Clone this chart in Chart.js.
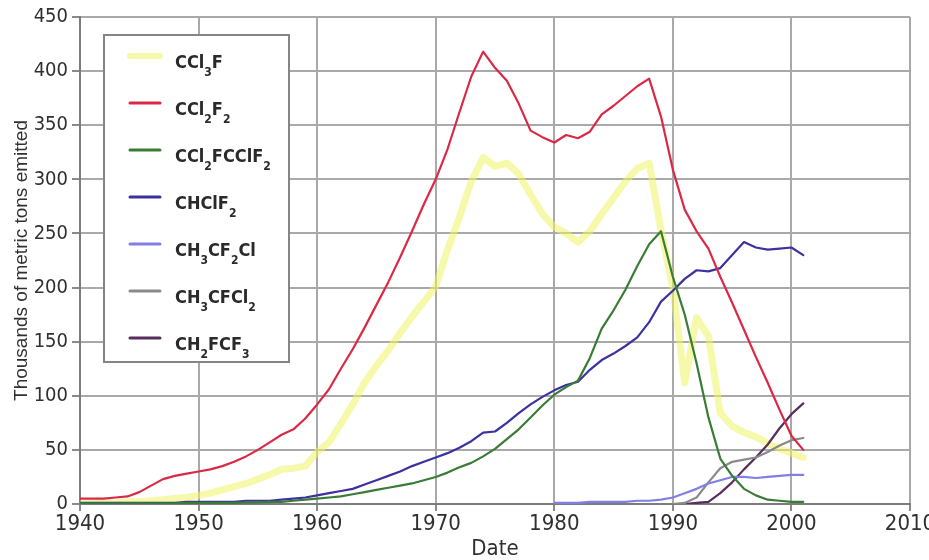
<!DOCTYPE html>
<html>
<head>
<meta charset="utf-8">
<title>Halocarbon emissions</title>
<script src="https://cdn.jsdelivr.net/npm/chart.js@4.4.1/dist/chart.umd.min.js"></script>
<style>
  html, body { margin: 0; padding: 0; background: #ffffff; }
  canvas { display: block; }
</style>
</head>
<body>
<canvas id="chart" width="929" height="560"></canvas>
<script>
// Years of record (x values)
const years = [
  1940, 1941, 1942, 1943, 1944, 1945, 1946, 1947, 1948, 1949,
  1950, 1951, 1952, 1953, 1954, 1955, 1956, 1957, 1958, 1959,
  1960, 1961, 1962, 1963, 1964, 1965, 1966, 1967, 1968, 1969,
  1970, 1971, 1972, 1973, 1974, 1975, 1976, 1977, 1978, 1979,
  1980, 1981, 1982, 1983, 1984, 1985, 1986, 1987, 1988, 1989,
  1990, 1991, 1992, 1993, 1994, 1995, 1996, 1997, 1998, 1999,
  2000, 2001
];

// Thousands of metric tons emitted per year (null = no data)
const ccl3f = [
  0, 0.5, 1, 1, 2, 2, 3, 4, 5, 6,
  8, 10, 13, 16, 19, 23, 27, 32, 33, 35,
  48, 57, 74, 92, 112, 128, 142, 158, 173, 187,
  201, 235, 265, 298, 320, 312, 315, 305, 286, 268,
  256, 250, 242, 252, 268, 283, 298, 310, 315, 253,
  200, 112, 172, 155, 84, 72, 66, 62, 56, 51,
  47, 43
];
const ccl2f2 = [
  5, 5, 5, 6, 7, 11, 17, 23, 26, 28,
  30, 32, 35, 39, 44, 50, 57, 64, 69, 79,
  92, 106, 125, 143, 163, 184, 205, 228, 252, 277,
  300, 328, 362, 395, 418, 403, 391, 370, 345, 339,
  334, 341, 338, 344, 360, 368, 377, 386, 393, 358,
  309, 272, 252, 236, 210, 186, 161, 136, 112, 87,
  63, 50
];
const ccl2fcclf2 = [
  0.5, 0.5, 0.5, 0.5, 0.5, 0.5, 0.5, 0.5, 0.5, 1,
  1, 1, 1, 1, 1.5, 1.5, 2, 2, 3, 4,
  5, 6, 7, 9, 11, 13, 15, 17, 19, 22,
  25, 29, 34, 38, 44, 51, 60, 69, 80, 91,
  101, 108, 114, 135, 162, 179, 198, 220, 240, 252,
  210, 175, 130, 80, 42, 26, 14, 8, 4, 3,
  2, 2
];
const chclf2 = [
  1, 1, 1, 1, 1, 1, 1, 1, 1, 2,
  2, 2, 2, 2, 3, 3, 3, 4, 5, 6,
  8, 10, 12, 14, 18, 22, 26, 30, 35, 39,
  43, 47, 52, 58, 66, 67, 75, 84, 92, 99,
  105, 110, 113, 124, 133, 139, 146, 154, 168, 187,
  197, 208, 216, 215, 218, 230, 242, 237, 235, 236,
  237, 230
];
const ch3cf2cl = [
  null, null, null, null, null, null, null, null, null, null,
  null, null, null, null, null, null, null, null, null, null,
  null, null, null, null, null, null, null, null, null, null,
  null, null, null, null, null, null, null, null, null, null,
  1, 1, 1, 2, 2, 2, 2, 3, 3, 4,
  6, 10, 14, 19, 22, 25, 25, 24, 25, 26,
  27, 27
];
const ch3cfcl2 = [
  null, null, null, null, null, null, null, null, null, null,
  null, null, null, null, null, null, null, null, null, null,
  null, null, null, null, null, null, null, null, null, null,
  null, null, null, null, null, null, null, null, null, null,
  null, null, null, null, null, null, null, null, null, null,
  0, 1, 6, 20, 33, 39, 41, 43, 48, 54,
  59, 61
];
const ch2fcf3 = [
  null, null, null, null, null, null, null, null, null, null,
  null, null, null, null, null, null, null, null, null, null,
  null, null, null, null, null, null, null, null, null, null,
  null, null, null, null, null, null, null, null, null, null,
  null, null, null, null, null, null, null, null, null, null,
  0, 0, 1, 2, 10, 20, 32, 43, 55, 70,
  83, 93
];

const seriesNames = ['CCl₃F', 'CCl₂F₂', 'CCl₂FCClF₂', 'CHClF₂', 'CH₃CF₂Cl', 'CH₃CFCl₂', 'CH₂FCF₃'];
const seriesValues = [ccl3f, ccl2f2, ccl2fcclf2, chclf2, ch3cf2cl, ch3cfcl2, ch2fcf3];

const xTicks = [1940, 1950, 1960, 1970, 1980, 1990, 2000, 2010];
const yTicks = [0, 50, 100, 150, 200, 250, 300, 350, 400, 450];

// Line styles per series
const lineStyles = [
  { color: 'rgba(238, 244, 100, 0.55)', width: 7, order: 1 },
  { color: '#d92a45', width: 2.2, order: 0 },
  { color: '#3a7c36', width: 2.2, order: 0 },
  { color: '#3b32a0', width: 2.2, order: 0 },
  { color: '#7f7fe6', width: 2.2, order: 0 },
  { color: '#8a8a8a', width: 2.2, order: 0 },
  { color: '#5a2d5e', width: 2.2, order: 0 }
];

const FONT = "'Liberation Sans Narrow', 'Arial Narrow', 'DejaVu Sans Condensed', sans-serif";

function toPoints(values) {
  const pts = [];
  values.forEach((v, i) => { if (v !== null) pts.push({ x: years[i], y: v }); });
  return pts;
}

const datasets = seriesNames.map((name, i) => ({
  label: name,
  data: toPoints(seriesValues[i]),
  borderColor: lineStyles[i].color,
  borderWidth: lineStyles[i].width,
  order: lineStyles[i].order,
  pointRadius: 0,
  fill: false,
  tension: 0,
  borderJoinStyle: 'round',
  borderCapStyle: 'round'
}));

// Draws text where unicode subscript digits are rendered as small lowered digits
function drawChemText(ctx, text, x, y, size) {
  const subs = '₀₁₂₃₄₅₆₇₈₉';
  let cx = x;
  for (const ch of text) {
    const k = subs.indexOf(ch);
    if (k >= 0) {
      ctx.font = `bold ${Math.round(size * 0.68)}px ${FONT}`;
      ctx.fillText(String(k), cx, y + size * 0.42);
      cx += ctx.measureText(String(k)).width;
    } else {
      ctx.font = `bold ${size}px ${FONT}`;
      ctx.fillText(ch, cx, y);
      cx += ctx.measureText(ch).width;
    }
  }
}

const boxedLegend = {
  id: 'boxedLegend',
  afterDatasetsDraw(chart, args, opts) {
    const ctx = chart.ctx;
    const { left, top, width, height, rowStart, rowGap } = opts;
    ctx.save();
    ctx.fillStyle = '#ffffff';
    ctx.fillRect(left, top, width, height);
    ctx.strokeStyle = '#858585';
    ctx.lineWidth = 2;
    ctx.strokeRect(left, top, width, height);
    chart.data.datasets.forEach((ds, i) => {
      const y = rowStart + i * rowGap;
      ctx.beginPath();
      ctx.moveTo(left + 26, y);
      ctx.lineTo(left + 56, y);
      ctx.strokeStyle = ds.borderColor;
      ctx.lineWidth = i === 0 ? 6 : 3;
      ctx.lineCap = 'round';
      ctx.stroke();
      ctx.fillStyle = '#2a2a2a';
      ctx.textBaseline = 'alphabetic';
      ctx.textAlign = 'left';
      drawChemText(ctx, ds.label, left + 71, y + 12, 18);
    });
    ctx.restore();
  }
};

const gridColor = '#a9a9a9';

new Chart(document.getElementById('chart'), {
  type: 'line',
  data: { datasets },
  plugins: [boxedLegend],
  options: {
    responsive: false,
    animation: false,
    layout: { padding: { top: 17, right: 19, left: 0, bottom: 0 } },
    plugins: {
      legend: { display: false },
      tooltip: { enabled: false },
      boxedLegend: { left: 104, top: 35, width: 185, height: 327, rowStart: 56, rowGap: 47 }
    },
    scales: {
      x: {
        type: 'linear',
        min: 1940,
        max: 2010,
        afterBuildTicks(scale) { scale.ticks = xTicks.map(v => ({ value: v })); },
        afterFit(scale) {
          scale.height = 56;
          // let the last year label overhang the right margin
          scale.paddingRight = 0;
          scale.paddingLeft = 0;
        },
        ticks: {
          color: '#303030',
          font: { family: FONT, size: 22 },
          padding: 0,
          maxRotation: 0,
          callback: v => String(v)
        },
        grid: { color: gridColor, lineWidth: 2, tickLength: 7, tickColor: '#8a8a8a' },
        border: { color: '#7c7c7c', width: 2 },
        title: {
          display: true,
          text: 'Date',
          color: '#303030',
          font: { family: FONT, size: 22, lineHeight: 1 },
          padding: { top: 0, bottom: 0 }
        }
      },
      y: {
        min: 0,
        max: 450,
        afterBuildTicks(scale) { scale.ticks = yTicks.map(v => ({ value: v })); },
        afterFit(scale) { scale.width = 80; },
        ticks: {
          color: '#303030',
          font: { family: FONT, size: 20 },
          padding: 4,
          callback: v => String(v)
        },
        grid: { color: gridColor, lineWidth: 2, tickLength: 8, tickColor: '#8a8a8a' },
        border: { color: '#7c7c7c', width: 2 },
        title: {
          display: true,
          text: 'Thousands of metric tons emitted',
          color: '#303030',
          font: { family: "'Liberation Sans', Arial, sans-serif", size: 19, lineHeight: 1.2 },
          padding: { top: 10, bottom: 0 }
        }
      }
    }
  }
});
</script>
</body>
</html>
